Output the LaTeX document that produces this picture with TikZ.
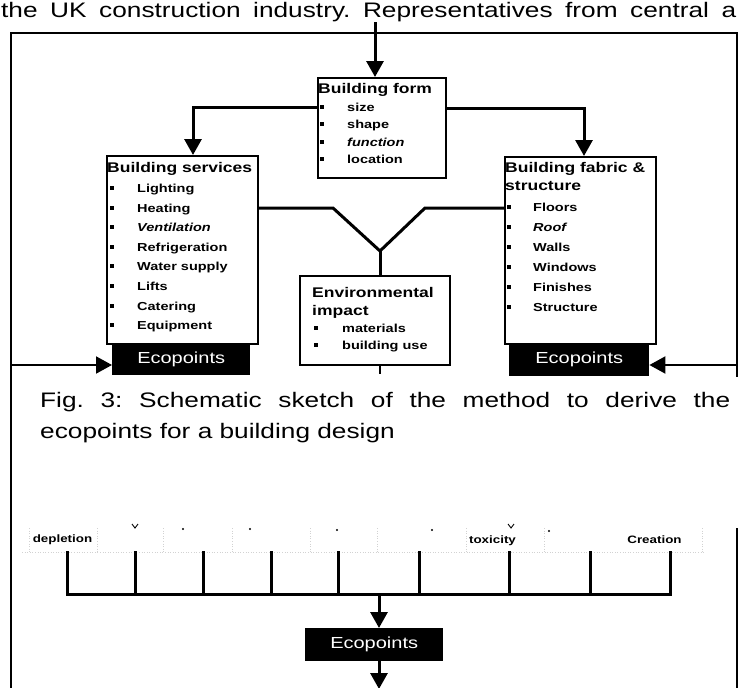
\documentclass[tikz,border=0pt]{standalone}
\usepackage{fontspec}
\setmainfont{Liberation Sans}[FakeStretch=1.25]
\usetikzlibrary{arrows.meta}
\frenchspacing

\begin{document}
\begin{tikzpicture}[x=1pt, y=-1pt,
    caixa/.style={draw, line width=1.8pt, inner sep=0pt, anchor=north west},
    eco/.style={fill=black, text=white, inner sep=0pt, anchor=north west, font=\fontsize{16}{18}\selectfont},
    titulo/.style={anchor=base west, inner sep=0pt, font=\fontsize{14}{16}\selectfont\bfseries},
    item/.style={anchor=base west, inner sep=0pt, font=\fontsize{11.6}{14}\selectfont\bfseries},
    rotulo/.style={anchor=base, inner sep=0pt, font=\fontsize{10.7}{12}\selectfont\bfseries},
    texto/.style={anchor=base west, inner sep=0pt, font=\fontsize{21}{25}\selectfont},
    seta/.style={-{Triangle[width=17pt,length=16pt]}, line width=3pt},
    linha/.style={line width=3pt},
    moldura/.style={line width=1.8pt},
    cinza/.style={gray!35, dotted, line width=0.6pt}]
    \useasboundingbox (0,0) rectangle (739,688);
    \clip (0,0) rectangle (739,688);

    % Texto no topo
    \node[texto] (topotxt) at (1,17) {\makebox[735pt][s]{the UK construction industry. Representatives from central a}};

    % Moldura
    \draw[moldura] (11,690) -- (11,33) -- (737,33) -- (737,377);
    \draw[moldura] (737,528) -- (737,690);

    % Caixas
    \node[caixa, minimum width=128pt, minimum height=100pt] (forma) at (317,77) {};
    \node[caixa, minimum width=151pt, minimum height=188pt] (servicos) at (106,155) {};
    \node[caixa, minimum width=151pt, minimum height=187pt] (tecido) at (504,156) {};
    \node[caixa, minimum width=150pt, minimum height=89pt] (ambiente) at (299,275) {};

    % Building form
    \node[titulo] (formaT) at (318,93) {Building form};
    \foreach \txt [count=\i] in {size, shape, {\itshape function}, location} {
        \node[item] (forma\i) at (347, {111.5+(\i-1)*17.3}) {\txt};
        \fill (320, {105+(\i-1)*17.3}) rectangle ++(4,4);
    }

    % Building services
    \node[titulo] (servicosT) at (107,172) {Building services};
    \foreach \txt [count=\i] in {Lighting, Heating, {\itshape Ventilation}, Refrigeration, Water supply, Lifts, Catering, Equipment} {
        \node[item] (servicos\i) at (137, {192.5+(\i-1)*19.6}) {\txt};
        \fill (110, {186+(\i-1)*19.6}) rectangle ++(4,4);
    }

    % Building fabric & structure
    \node[titulo] (tecidoT) at (505,172) {Building fabric \&};
    \node[titulo] (tecidoT2) at (505,190) {structure};
    \foreach \txt [count=\i] in {Floors, {\itshape Roof}, Walls, Windows, Finishes, Structure} {
        \node[item] (tecido\i) at (533, {211.5+(\i-1)*20}) {\txt};
        \fill (507, {205+(\i-1)*20}) rectangle ++(4,4);
    }

    % Environmental impact
    \node[titulo] (ambienteT) at (312,297) {Environmental};
    \node[titulo] (ambienteT2) at (312,315) {impact};
    \foreach \txt [count=\i] in {materials, building use} {
        \node[item] (ambiente\i) at (342, {332.5+(\i-1)*17}) {\txt};
        \fill (314, {326+(\i-1)*17}) rectangle ++(4,4);
    }

    % Ecopoints
    \node[eco, minimum width=138pt, minimum height=32pt] (ecoS) at (112,343) {Ecopoints};
    \node[eco, minimum width=140pt, minimum height=33pt] (ecoT) at (509,343) {Ecopoints};
    \node[eco, minimum width=138pt, minimum height=33pt] (ecoB) at (305,628) {Ecopoints};

    % Ligacoes
    \coordinate (topo) at (375,22);
    \coordinate (ramoE) at (193,107);
    \coordinate (ramoD) at (584,108);
    \coordinate (nivel) at (0,208);
    \coordinate (juncao) at (380,251);
    \coordinate (bordaE) at (11,365);
    \coordinate (bordaD) at (737,365);
    \draw[seta] (topo) -- (topo |- forma.north);
    \draw[seta] (forma.west |- ramoE) -| (ramoE |- servicos.north);
    \draw[seta] (forma.east |- ramoD) -| (ramoD |- tecido.north);
    \draw[linha] (servicos.east |- nivel) -- (333,208) -- (juncao);
    \draw[linha] (tecido.west |- nivel) -- (425,208) -- (juncao);
    \draw[linha] (juncao) -- (juncao |- ambiente.north);
    \draw[line width=1.2pt] (juncao |- ambiente.south) -- ++(0,8);
    \draw[seta, line width=2pt] (bordaE) -- (ecoS.west |- bordaE);
    \draw[seta, line width=2pt] (bordaD) -- (ecoT.east |- bordaD);

    % Legenda
    \node[texto] (legenda1) at (40,407) {\makebox[690pt][s]{Fig. 3: Schematic sketch of the method to derive the}};
    \node[texto] (legenda2) at (40,438) {ecopoints for a building design};

    % Tabela de categorias
    \draw[cinza] (22,552) -- (705,552);
    \foreach \x in {29,97,163,232,310,377,466,544,702}
        \draw[cinza] (\x,528) -- (\x,552);
    \foreach \x/\y in {183/529, 250/529, 337/530, 432/530, 549/531}
        \fill (\x,\y) circle (1.1);
    \draw[line width=0.9pt] (132,524) -- (135,528) -- (138,524);
    \draw[line width=0.9pt] (508,524) -- (511,528) -- (514,524);
    \node[rotulo] (depletion) at (62.5,542) {depletion};
    \node[rotulo] (toxicity) at (492.5,543) {toxicity};
    \node[rotulo] (creation) at (654.5,543) {Creation};

    % Barra de soma
    \coordinate (barra) at (0,594);
    \coordinate (meio) at (379,594);
    \coordinate (fim) at (379,689);
    \foreach \x [count=\i] in {67,135,203,271,338,419,509,590,670}
        \coordinate (t\i) at (\x,551);
    \draw[linha] (t1) -- (t1 |- barra) -- (t9 |- barra) -- (t9);
    \foreach \i in {2,...,8}
        \draw[linha] (t\i) -- (t\i |- barra);
    \draw[seta] (meio) -- (meio |- ecoB.north);
    \draw[seta] (ecoB.south -| meio) -- (fim);
\end{tikzpicture}
\end{document}
